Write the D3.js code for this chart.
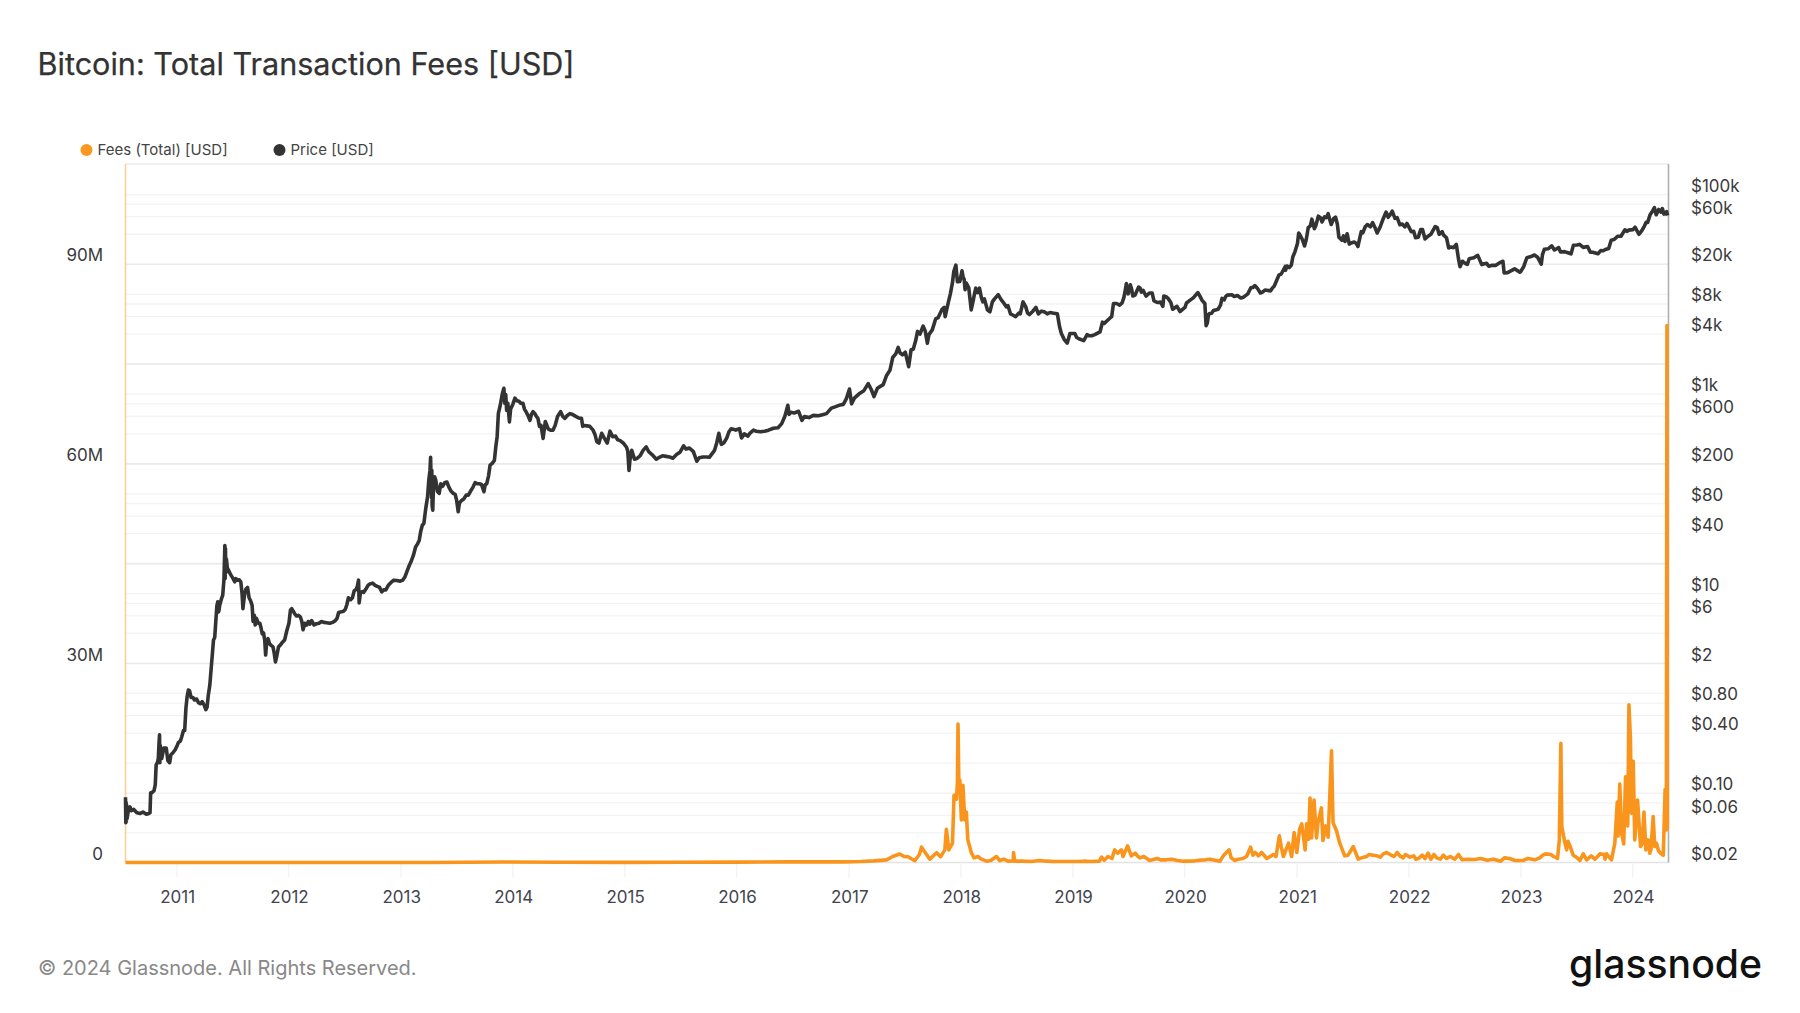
<!DOCTYPE html>
<html>
<head>
<meta charset="utf-8">
<script src="https://cdn.jsdelivr.net/npm/d3@7"></script>
<style>
  html, body { margin: 0; background: #fff; }
  svg { display: block; font-family: Inter, sans-serif; }
  .grid path, .edge path { display: none; }
  .grid text { display: none; }
</style>
</head>
<body>
<div id="chart"></div>
<script>
// values, [date, USD]
const price2010 = [["2010-07-19",0.09],["2010-07-20",0.05],["2010-07-21",0.08],["2010-07-22",0.052],["2010-07-23",0.075],["2010-07-24",0.055],["2010-07-26",0.06],["2010-07-29",0.068],["2010-08-03",0.072],["2010-08-07",0.066],["2010-08-15",0.068],["2010-08-25",0.063],["2010-09-05",0.062],["2010-09-14",0.064],["2010-09-25",0.061],["2010-10-03",0.062],["2010-10-07",0.063],["2010-10-09",0.1],["2010-10-13",0.1],["2010-10-20",0.105],["2010-10-24",0.12],["2010-10-27",0.19],["2010-10-31",0.2],["2010-11-03",0.22],["2010-11-05",0.3],["2010-11-07",0.38],["2010-11-08",0.2],["2010-11-09",0.3],["2010-11-14",0.22],["2010-11-21",0.28],["2010-11-29",0.28],["2010-12-04",0.21],["2010-12-10",0.2],["2010-12-14",0.24],["2010-12-20",0.25],["2010-12-28",0.27]];
const price2011 = [["2011-01-04",0.3],["2011-01-08",0.32],["2011-01-14",0.33],["2011-01-18",0.36],["2011-01-24",0.42],["2011-01-28",0.42],["2011-02-01",0.7],["2011-02-05",0.92],["2011-02-09",1.07],["2011-02-13",1.05],["2011-02-18",0.9],["2011-02-24",0.9],["2011-03-01",0.85],["2011-03-08",0.87],["2011-03-14",0.8],["2011-03-20",0.78],["2011-03-26",0.82],["2011-04-02",0.75],["2011-04-07",0.68],["2011-04-11",0.72],["2011-04-15",0.95],["2011-04-20",1.2],["2011-04-24",1.7],["2011-04-28",2.4],["2011-05-02",3.4],["2011-05-06",3.6],["2011-05-10",5.5],["2011-05-13",7.5],["2011-05-16",8.2],["2011-05-19",6.5],["2011-05-22",7.5],["2011-05-28",8.8],["2011-06-01",9.5],["2011-06-05",13.5],["2011-06-08",30],["2011-06-09",14],["2011-06-10",28],["2011-06-11",16],["2011-06-13",22],["2011-06-16",18],["2011-06-20",17],["2011-06-24",16],["2011-06-29",15],["2011-07-05",14],["2011-07-10",13],["2011-07-14",14],["2011-07-19",13.5],["2011-07-25",13.6],["2011-07-30",13],["2011-08-03",10],["2011-08-06",7],["2011-08-08",8],["2011-08-12",10],["2011-08-16",11],["2011-08-21",11.4],["2011-08-26",9],["2011-08-31",8.4],["2011-09-05",7.5],["2011-09-08",5.2],["2011-09-12",6],["2011-09-15",4.8],["2011-09-19",5.6],["2011-09-25",5],["2011-09-30",5],["2011-10-04",4.5],["2011-10-08",3.9],["2011-10-12",4],["2011-10-16",3.4],["2011-10-19",2.4],["2011-10-22",3.1],["2011-10-27",3.5],["2011-11-01",3.1],["2011-11-06",3],["2011-11-12",2.9],["2011-11-16",2.5],["2011-11-20",2.05],["2011-11-25",2.4],["2011-11-30",2.9],["2011-12-05",3],["2011-12-12",3.2],["2011-12-20",3.4],["2011-12-27",4.2]];
const price2012 = [["2012-01-03",5],["2012-01-08",6.8],["2012-01-12",7],["2012-01-17",6.6],["2012-01-22",6.2],["2012-01-28",5.9],["2012-02-03",6],["2012-02-09",5.8],["2012-02-14",5.2],["2012-02-18",4.3],["2012-02-24",5],["2012-03-01",4.8],["2012-03-06",5.2],["2012-03-11",4.9],["2012-03-17",5.3],["2012-03-25",4.8],["2012-04-02",4.95],["2012-04-10",5],["2012-04-18",5.2],["2012-04-26",5.1],["2012-05-05",5.05],["2012-05-15",5],["2012-05-25",5.1],["2012-06-02",5.3],["2012-06-08",5.6],["2012-06-13",6.4],["2012-06-22",6.5],["2012-06-29",6.6],["2012-07-05",6.9],["2012-07-10",7.7],["2012-07-15",9],["2012-07-22",8.6],["2012-07-28",9],["2012-08-03",10.6],["2012-08-09",10.9],["2012-08-13",11.7],["2012-08-17",13.5],["2012-08-19",8],["2012-08-23",10],["2012-08-29",10.4],["2012-09-03",10.2],["2012-09-10",11],["2012-09-17",12],["2012-09-24",12.4],["2012-10-02",12.6],["2012-10-10",12],["2012-10-17",11.7],["2012-10-24",11.5],["2012-11-01",10.3],["2012-11-07",10.8],["2012-11-14",10.8],["2012-11-22",12],["2012-12-01",12.8],["2012-12-10",13.5],["2012-12-20",13.4],["2012-12-31",13.2]];
const price2013 = [["2013-01-08",13.5],["2013-01-15",14.5],["2013-01-22",16.5],["2013-01-28",18.5],["2013-02-04",20.6],["2013-02-12",24],["2013-02-19",29],["2013-02-25",31],["2013-03-03",34],["2013-03-08",42],["2013-03-13",48],["2013-03-18",50],["2013-03-24",70],["2013-03-30",92],["2013-04-03",135],["2013-04-07",170],["2013-04-09",230],["2013-04-11",120],["2013-04-12",90],["2013-04-13",170],["2013-04-14",75],["2013-04-16",68],["2013-04-18",110],["2013-04-22",147],["2013-04-26",135],["2013-05-01",105],["2013-05-07",100],["2013-05-12",125],["2013-05-18",118],["2013-05-25",128],["2013-06-01",130],["2013-06-08",115],["2013-06-15",105],["2013-06-22",100],["2013-06-28",98],["2013-07-03",85],["2013-07-08",65.5],["2013-07-12",80],["2013-07-19",85],["2013-07-26",88],["2013-08-03",96],["2013-08-10",96],["2013-08-17",105],["2013-08-25",115],["2013-09-01",128],["2013-09-08",125],["2013-09-15",125],["2013-09-22",123],["2013-09-30",104],["2013-10-04",122],["2013-10-09",125],["2013-10-15",150],["2013-10-20",192],["2013-10-27",200],["2013-11-03",214],["2013-11-08",300],["2013-11-12",370],["2013-11-16",634],["2013-11-22",760],["2013-11-29",1000],["2013-12-04",1130],["2013-12-07",800],["2013-12-10",980],["2013-12-13",680],["2013-12-17",800],["2013-12-22",520],["2013-12-26",700]];
const price2014 = [["2014-01-02",780],["2014-01-09",900],["2014-01-15",850],["2014-01-22",840],["2014-01-28",800],["2014-02-04",800],["2014-02-09",700],["2014-02-14",660],["2014-02-20",610],["2014-02-27",540],["2014-03-04",620],["2014-03-09",660],["2014-03-15",630],["2014-03-20",590],["2014-03-25",565],["2014-03-30",470],["2014-04-04",480],["2014-04-11",356],["2014-04-18",525],["2014-04-22",490],["2014-04-28",440],["2014-05-05",430],["2014-05-13",430],["2014-05-20",480],["2014-05-28",590],["2014-06-07",660],["2014-06-14",590],["2014-06-21",565],["2014-06-28",600],["2014-07-07",630],["2014-07-15",620],["2014-07-25",595],["2014-08-05",570],["2014-08-14",565],["2014-08-18",470],["2014-08-22",480],["2014-09-01",475],["2014-09-10",470],["2014-09-21",430],["2014-09-27",390],["2014-10-03",330],["2014-10-10",320],["2014-10-19",400],["2014-10-27",360],["2014-11-06",320],["2014-11-15",420],["2014-11-24",370],["2014-12-03",375],["2014-12-10",345],["2014-12-17",340],["2014-12-28",320]];
const price2015 = [["2015-01-08",290],["2015-01-12",265],["2015-01-16",170],["2015-01-19",215],["2015-01-25",270],["2015-02-03",220],["2015-02-12",225],["2015-02-22",240],["2015-03-03",270],["2015-03-13",293],["2015-03-22",260],["2015-04-01",245],["2015-04-15",220],["2015-04-25",230],["2015-05-05",238],["2015-05-17",235],["2015-05-28",232],["2015-06-08",225],["2015-06-20",245],["2015-07-01",258],["2015-07-13",300],["2015-07-21",278],["2015-08-01",285],["2015-08-14",262],["2015-08-25",210],["2015-09-02",228],["2015-09-14",232],["2015-09-25",232],["2015-10-05",230],["2015-10-14",250],["2015-10-22",270],["2015-10-29",320],["2015-11-05",400],["2015-11-09",350],["2015-11-13",310],["2015-11-22",322],["2015-12-01",360],["2015-12-08",415],["2015-12-15",445],["2015-12-22",440],["2015-12-30",430]];
const price2016 = [["2016-01-06",440],["2016-01-11",445],["2016-01-18",360],["2016-01-27",395],["2016-02-08",375],["2016-02-14",400],["2016-02-26",430],["2016-03-06",420],["2016-03-20",415],["2016-04-02",420],["2016-04-15",430],["2016-05-01",450],["2016-05-16",455],["2016-05-28",500],["2016-06-07",590],["2016-06-12",670],["2016-06-17",765],["2016-06-21",620],["2016-06-27",650],["2016-07-08",640],["2016-07-22",665],["2016-08-02",540],["2016-08-10",590],["2016-08-25",575],["2016-09-08",605],["2016-09-25",600],["2016-10-08",615],["2016-10-21",630],["2016-11-06",715],["2016-11-20",740],["2016-12-05",770],["2016-12-15",780],["2016-12-25",890]];
const price2017 = [["2017-01-04",1110],["2017-01-11",790],["2017-01-20",900],["2017-02-07",1010],["2017-02-20",1070],["2017-03-06",1260],["2017-03-16",1100],["2017-03-25",935],["2017-04-05",1130],["2017-04-24",1230],["2017-05-05",1520],["2017-05-16",1710],["2017-05-25",2300],["2017-06-04",2500],["2017-06-12",2900],["2017-06-18",2550],["2017-06-26",2450],["2017-07-05",2600],["2017-07-16",1860],["2017-07-24",2750],["2017-07-31",2780],["2017-08-08",3400],["2017-08-14",4200],["2017-08-22",3950],["2017-09-01",4750],["2017-09-08",4250],["2017-09-15",3200],["2017-09-20",3900],["2017-10-01",4350],["2017-10-12",5600],["2017-10-20",5770],["2017-11-02",7000],["2017-11-09",7300],["2017-11-12",5900],["2017-11-22",8100],["2017-11-29",10000],["2017-12-06",13000],["2017-12-10",16600],["2017-12-17",19400],["2017-12-22",13200],["2017-12-30",13300]];
const price2018 = [["2018-01-06",17000],["2018-01-10",14500],["2018-01-13",14000],["2018-01-16",11000],["2018-01-20",12800],["2018-01-28",11500],["2018-02-05",6900],["2018-02-12",8700],["2018-02-16",10100],["2018-02-20",11400],["2018-02-26",10300],["2018-03-04",11400],["2018-03-10",9200],["2018-03-15",8300],["2018-03-20",8900],["2018-03-30",6900],["2018-04-07",6600],["2018-04-15",8300],["2018-04-22",8900],["2018-05-04",9800],["2018-05-14",8700],["2018-05-22",8100],["2018-05-31",7400],["2018-06-05",7600],["2018-06-13",6300],["2018-06-22",6100],["2018-06-30",5900],["2018-07-10",6400],["2018-07-15",6300],["2018-07-24",8300],["2018-08-02",7400],["2018-08-08",6400],["2018-08-14",6200],["2018-08-25",6700],["2018-09-04",7300],["2018-09-12",6300],["2018-09-22",6700],["2018-10-01",6600],["2018-10-11",6300],["2018-10-20",6500],["2018-11-01",6400],["2018-11-13",6300],["2018-11-20",4700],["2018-11-26",4000],["2018-12-05",3500],["2018-12-15",3200],["2018-12-24",4000]];
const price2019 = [["2019-01-09",4000],["2019-01-15",3650],["2019-01-22",3550],["2019-02-07",3400],["2019-02-18",3900],["2019-02-24",3800],["2019-03-05",3800],["2019-03-15",3900],["2019-04-01",4150],["2019-04-09",5200],["2019-04-15",5050],["2019-04-25",5400],["2019-05-03",5700],["2019-05-09",5900],["2019-05-15",8000],["2019-05-25",8000],["2019-06-04",7700],["2019-06-12",8100],["2019-06-18",9200],["2019-06-22",10700],["2019-06-26",12700],["2019-07-02",10000],["2019-07-05",11000],["2019-07-09",12300],["2019-07-13",11200],["2019-07-17",9500],["2019-07-24",9700],["2019-08-05",11700],["2019-08-10",11400],["2019-08-14",10400],["2019-08-20",10800],["2019-08-29",9500],["2019-09-10",10200],["2019-09-18",10200],["2019-09-24",8500],["2019-10-01",8300],["2019-10-07",8200],["2019-10-15",8250],["2019-10-23",7500],["2019-10-26",9500],["2019-11-04",9300],["2019-11-10",8900],["2019-11-18",8200],["2019-11-24",7000],["2019-12-02",7300],["2019-12-08",7500],["2019-12-18",6650]];
const price2020 = [["2020-01-03",7300],["2020-01-08",8100],["2020-01-19",8600],["2020-01-28",9000],["2020-02-02",9300],["2020-02-14",10300],["2020-02-20",9600],["2020-02-28",8600],["2020-03-08",8000],["2020-03-12",4800],["2020-03-16",5100],["2020-03-20",6200],["2020-03-22",6300],["2020-03-30",6400],["2020-04-05",6800],["2020-04-12",6900],["2020-04-20",7000],["2020-04-28",7700],["2020-05-03",9000],["2020-05-10",8700],["2020-05-15",9400],["2020-05-20",9700],["2020-06-04",9800],["2020-06-12",9400],["2020-06-22",9600],["2020-07-03",9100],["2020-07-12",9250],["2020-07-26",10000],["2020-08-05",11500],["2020-08-12",11600],["2020-08-18",12100],["2020-08-26",11400],["2020-09-05",10200],["2020-09-12",10400],["2020-09-20",10900],["2020-10-08",10700],["2020-10-15",11500],["2020-10-20",11900],["2020-11-05",15500],["2020-11-12",15800],["2020-11-25",18800],["2020-11-26",17200],["2020-12-01",19000],["2020-12-08",18300],["2020-12-15",19400],["2020-12-20",23500],["2020-12-27",26500]];
const price2021 = [["2021-01-04",32000],["2021-01-08",40700],["2021-01-14",38000],["2021-01-20",35000],["2021-01-27",30200],["2021-02-02",35500],["2021-02-08",46000],["2021-02-15",48000],["2021-02-20",56000],["2021-02-28",45000],["2021-03-05",48500],["2021-03-13",60000],["2021-03-20",58000],["2021-03-25",52500],["2021-04-02",59000],["2021-04-08",58000],["2021-04-14",63500],["2021-04-19",56000],["2021-04-24",49500],["2021-05-02",56800],["2021-05-08",58800],["2021-05-14",50000],["2021-05-19",37000],["2021-05-29",34500],["2021-06-03",38000],["2021-06-08",33500],["2021-06-15",40000],["2021-06-22",31500],["2021-06-26",32200],["2021-07-08",33000],["2021-07-15",32000],["2021-07-20",29800],["2021-07-31",42000],["2021-08-05",40800],["2021-08-13",47000],["2021-08-20",49500],["2021-08-30",47000],["2021-09-06",51700],["2021-09-14",46000],["2021-09-21",40700],["2021-10-01",47000],["2021-10-10",56000],["2021-10-20",66000],["2021-10-27",58500],["2021-11-03",62500],["2021-11-09",67500],["2021-11-18",57000],["2021-11-25",58000],["2021-12-04",49200],["2021-12-12",50000],["2021-12-20",46800],["2021-12-27",50700]];
const price2022 = [["2022-01-03",46300],["2022-01-10",41900],["2022-01-18",42300],["2022-01-24",36500],["2022-02-02",37000],["2022-02-10",44000],["2022-02-16",44000],["2022-02-24",35500],["2022-03-07",38000],["2022-03-15",39500],["2022-03-29",47200],["2022-04-05",46000],["2022-04-11",39500],["2022-04-21",42000],["2022-04-25",39000],["2022-05-05",36500],["2022-05-12",28800],["2022-05-20",29500],["2022-05-28",29000],["2022-06-01",30000],["2022-06-06",31300],["2022-06-13",22500],["2022-06-18",18700],["2022-06-26",21200],["2022-07-05",20200],["2022-07-12",19700],["2022-07-18",22500],["2022-08-02",23000],["2022-08-15",24300],["2022-08-28",19600],["2022-09-05",20000],["2022-09-13",20200],["2022-09-20",18900],["2022-10-01",19300],["2022-10-13",19300],["2022-10-28",20700],["2022-11-05",21200],["2022-11-09",16200],["2022-11-20",16300],["2022-12-01",17000],["2022-12-13",17800],["2022-12-30",16500]];
const price2023 = [["2023-01-02",16700],["2023-01-12",18800],["2023-01-22",23000],["2023-02-02",23500],["2023-02-16",24500],["2023-02-26",23300],["2023-03-10",19800],["2023-03-14",24700],["2023-03-20",28000],["2023-04-02",28300],["2023-04-13",30300],["2023-04-22",27500],["2023-05-06",29000],["2023-05-12",26300],["2023-05-25",26500],["2023-06-05",25800],["2023-06-15",25100],["2023-06-23",30700],["2023-07-05",30800],["2023-07-13",31300],["2023-07-25",29200],["2023-08-08",29800],["2023-08-17",26200],["2023-08-25",26100],["2023-09-11",25200],["2023-09-20",27100],["2023-09-28",27000],["2023-10-05",27800],["2023-10-16",28500],["2023-10-24",34500],["2023-11-02",35000],["2023-11-15",37800],["2023-11-25",37800],["2023-12-08",43800],["2023-12-15",42200],["2023-12-20",43500]];
const price2024 = [["2024-01-03",44000],["2024-01-10",46500],["2024-01-16",43100],["2024-01-23",39500],["2024-02-01",43000],["2024-02-09",47500],["2024-02-15",52000],["2024-02-20",52000],["2024-02-28",62000],["2024-03-05",66000],["2024-03-13",73000],["2024-03-19",62000],["2024-03-24",67000],["2024-03-27",70000],["2024-04-03",66000],["2024-04-08",71500],["2024-04-13",63000],["2024-04-20",64500],["2024-04-22",66500],["2024-04-25",61000]];

// fees in USD millions, [date, USD M]
const feesEarly = [["2010-07-19",0],["2011-06-10",0.002],["2012-06-01",0.001],["2013-04-10",0.01],["2013-12-01",0.08],["2014-06-01",0.03],["2015-01-01",0.02],["2015-07-10",0.03],["2016-01-01",0.05],["2016-06-20",0.09],["2016-12-20",0.1]];
const fees2017 = [["2017-02-10",0.15],["2017-03-25",0.25],["2017-05-05",0.4],["2017-05-25",0.9],["2017-06-17",1.28],["2017-07-01",0.9],["2017-07-14",0.87],["2017-08-05",0.27],["2017-08-20",1.2],["2017-08-27",2.3],["2017-09-05",1.7],["2017-09-23",0.5],["2017-10-15",1.47],["2017-10-28",0.87],["2017-11-11",1.9],["2017-11-16",5],["2017-11-24",1.9],["2017-12-06",2.9],["2017-12-11",10.1],["2017-12-19",9.5],["2017-12-22",12],["2017-12-24",20.8],["2017-12-27",10.6],["2017-12-30",12.4]];
const fees2018 = [["2018-01-04",6.4],["2018-01-09",11.6],["2018-01-15",6.4],["2018-01-20",7.6],["2018-01-25",3.4],["2018-02-06",1.4],["2018-02-14",0.7],["2018-02-27",0.9],["2018-03-10",0.5],["2018-03-27",0.2],["2018-04-10",0.3],["2018-04-28",0.9],["2018-05-09",0.3],["2018-05-22",0.5],["2018-06-05",0.2],["2018-06-22",0.25],["2018-06-23",1.5],["2018-06-27",0.2],["2018-07-20",0.2],["2018-08-20",0.15],["2018-09-15",0.3],["2018-10-10",0.2],["2018-11-01",0.15],["2018-12-15",0.15]];
const fees2019 = [["2019-01-20",0.15],["2019-02-15",0.2],["2019-03-01",0.15],["2019-03-30",0.2],["2019-04-06",0.8],["2019-04-15",0.35],["2019-04-27",0.9],["2019-05-10",0.6],["2019-05-19",1.9],["2019-05-29",1.4],["2019-06-10",1.9],["2019-06-15",0.9],["2019-06-30",2.5],["2019-07-12",1],["2019-07-25",1.4],["2019-08-01",1],["2019-08-09",0.7],["2019-08-22",0.9],["2019-09-10",0.3],["2019-09-25",0.5],["2019-10-05",0.6],["2019-10-15",0.4],["2019-11-04",0.4],["2019-11-20",0.5],["2019-12-10",0.3],["2019-12-28",0.2]];
const fees2020 = [["2020-01-15",0.2],["2020-02-05",0.25],["2020-02-20",0.35],["2020-03-10",0.4],["2020-03-25",0.5],["2020-04-26",0.2],["2020-05-07",1],["2020-05-26",1.9],["2020-06-02",0.7],["2020-06-14",0.3],["2020-06-25",0.5],["2020-07-10",0.6],["2020-07-22",0.9],["2020-08-04",2.3],["2020-08-12",1.1],["2020-08-19",1.5],["2020-08-30",1],["2020-09-09",1.5],["2020-09-26",0.6],["2020-10-17",1.2],["2020-10-26",0.9],["2020-11-06",4],["2020-11-12",2.4],["2020-11-19",0.9],["2020-12-06",2.9],["2020-12-16",0.9],["2020-12-24",4.5]];
const fees2021 = [["2021-01-02",1.5],["2021-01-11",5],["2021-01-18",5.8],["2021-01-29",1.9],["2021-02-03",5.8],["2021-02-09",3.5],["2021-02-14",9.7],["2021-02-19",3.7],["2021-02-27",9.4],["2021-03-07",3.7],["2021-03-12",6],["2021-03-23",8.2],["2021-03-28",3.3],["2021-04-06",5.5],["2021-04-14",3.8],["2021-04-19",9.5],["2021-04-25",16.8],["2021-04-30",6],["2021-05-11",4.8],["2021-05-22",2.9],["2021-06-07",1],["2021-06-18",1.1],["2021-07-05",2.4],["2021-07-21",0.5],["2021-08-01",0.7],["2021-08-18",0.9],["2021-08-25",1.2],["2021-09-07",1.1],["2021-09-20",1],["2021-10-01",0.8],["2021-10-11",1.3],["2021-10-22",1.5],["2021-11-02",1.2],["2021-11-15",0.9],["2021-11-25",1.5],["2021-12-04",1],["2021-12-15",0.7],["2021-12-22",1.2]];
const fees2022 = [["2022-01-06",0.8],["2022-01-18",1],["2022-01-25",0.5],["2022-02-02",0.6],["2022-02-15",1.1],["2022-02-24",0.6],["2022-03-06",1.4],["2022-03-15",0.5],["2022-03-25",1.2],["2022-04-03",0.7],["2022-04-15",0.5],["2022-04-25",1.1],["2022-05-05",0.6],["2022-05-17",0.9],["2022-06-01",0.5],["2022-06-13",1.2],["2022-06-25",0.4],["2022-07-11",0.5],["2022-08-05",0.45],["2022-08-25",0.6],["2022-09-15",0.35],["2022-10-05",0.5],["2022-10-29",0.2],["2022-11-10",0.7],["2022-11-26",0.6],["2022-12-15",0.3]];
const fees2023 = [["2023-01-10",0.3],["2023-01-25",0.6],["2023-02-17",0.4],["2023-03-05",0.7],["2023-03-15",1.1],["2023-03-24",1.3],["2023-04-10",1.2],["2023-04-20",0.9],["2023-05-02",0.6],["2023-05-08",3.4],["2023-05-13",17.9],["2023-05-16",5.4],["2023-05-26",3],["2023-06-01",1.9],["2023-06-05",3.2],["2023-06-11",2.6],["2023-06-22",1.1],["2023-07-03",0.8],["2023-07-14",0.3],["2023-07-25",1.3],["2023-08-05",0.4],["2023-08-20",1],["2023-09-01",0.5],["2023-09-10",0.9],["2023-09-17",1.3],["2023-10-01",1.2],["2023-10-04",0.5],["2023-10-09",1.3],["2023-10-25",0.4],["2023-11-05",2.9],["2023-11-13",9.1],["2023-11-16",4],["2023-11-21",11.8],["2023-11-27",4.5],["2023-12-04",2.8],["2023-12-10",12.9],["2023-12-17",5.5],["2023-12-21",23.7],["2023-12-26",18.4],["2023-12-29",7.4]];
const fees2024 = [["2024-01-04",15.2],["2024-01-09",3.4],["2024-01-18",9.4],["2024-01-28",2.4],["2024-02-02",2.8],["2024-02-08",7.6],["2024-02-14",1.9],["2024-02-22",3.4],["2024-02-27",1.4],["2024-03-02",2],["2024-03-09",6.9],["2024-03-14",2.4],["2024-03-20",2.9],["2024-03-26",1.8],["2024-04-02",1.4],["2024-04-11",1.1],["2024-04-17",11],["2024-04-21",4.9],["2024-04-23",80.7],["2024-04-24",5]];

const priceTicks = [100000,60000,20000,8000,4000,1000,600,200,80,40,10,6,2,0.8,0.4,0.1,0.06,0.02];
const gridTicks = [100000,80000,60000,40000,20000,10000,8000,6000,4000,2000,1000,800,600,400,200,100,80,60,40,20,10,8,6,4,2,1,0.8,0.6,0.4,0.2,0.1,0.08,0.06,0.04];
const feeTicks = [0,30,60,90];
const yearTicks = [2011,2012,2013,2014,2015,2016,2017,2018,2019,2020,2021,2022,2023,2024];

const priceData = [].concat(price2010,price2011,price2012,price2013,price2014,price2015,price2016,price2017,price2018,price2019,price2020,price2021,price2022,price2023,price2024);
const feeData = [].concat(feesEarly,fees2017,fees2018,fees2019,fees2020,fees2021,fees2022,fees2023,fees2024);

const svgWidth = 1800, svgHeight = 1013;
const plotLeft = 125.5, plotRight = 1668.5, plotTop = 164, plotBottom = 862.5;
const parse = d3.utcParse("%Y-%m-%d");

const svg = d3.select("#chart").append("svg").attr("width", svgWidth).attr("height", svgHeight);

const x = d3.scaleUtc().domain([parse("2010-07-19"), parse("2024-04-28")]).range([plotLeft, plotRight]);
const yFee = d3.scaleLinear().domain([0, 105]).range([plotBottom, plotTop]);
const yPrice = d3.scaleLog().domain([0.02, 200000]).range([plotBottom, plotTop]);

// grid comes from the log axis, major lines on the 2eN values
const grid = svg.append("g").attr("class", "grid").attr("transform", `translate(${plotLeft},0)`)
    .call(d3.axisLeft(yPrice).tickValues(gridTicks).tickSize(-(plotRight - plotLeft)).tickFormat(""));
grid.selectAll("line")
    .attr("stroke", d => String(d).startsWith("2") ? "#e9e9e9" : "#f3f3f3")
    .attr("stroke-width", d => String(d).startsWith("2") ? 1.6 : 1.3);

svg.append("line").attr("x1", plotLeft).attr("x2", plotRight).attr("y1", plotTop).attr("y2", plotTop).attr("stroke", "#eaeaea").attr("stroke-width", 1.5);
svg.append("line").attr("x1", plotLeft).attr("x2", plotRight).attr("y1", plotBottom).attr("y2", plotBottom).attr("stroke", "#e3e3e3").attr("stroke-width", 1.5);
svg.append("line").attr("x1", plotLeft).attr("x2", plotLeft).attr("y1", plotTop).attr("y2", plotBottom).attr("stroke", "#fcd09a").attr("stroke-width", 1.6);
svg.append("line").attr("x1", plotRight).attr("x2", plotRight).attr("y1", plotTop).attr("y2", plotBottom).attr("stroke", "#b0b0b0").attr("stroke-width", 1.6);

// x axis
const xAxis = svg.append("g").attr("class", "edge").attr("transform", `translate(0,${plotBottom})`)
    .call(d3.axisBottom(x).tickValues(yearTicks.map(y => new Date(Date.UTC(y, 0, 1)))).tickSize(15).tickFormat(d3.utcFormat("%Y")));
xAxis.selectAll("line").attr("stroke", "#eeeeee");
xAxis.selectAll("text").attr("y", 36).attr("dy", 0).attr("dx", 0.7).attr("dominant-baseline", "middle")
    .attr("fill", "#42444f").attr("font-size", 17).attr("font-family", "Inter, sans-serif");

// left axis, labels sit a little above their value
const feeAxis = svg.append("g").attr("class", "edge").attr("transform", `translate(${plotLeft},0)`)
    .call(d3.axisLeft(yFee).tickValues(feeTicks).tickSize(0).tickFormat(d => d === 0 ? "0" : d + "M"));
feeAxis.selectAll("text").attr("x", -22.5).attr("dy", -7.5).attr("dominant-baseline", "middle")
    .attr("fill", "#3a3a3a").attr("font-size", 17).attr("font-family", "Inter, sans-serif");

const priceFormat = d => d >= 1000 ? "$" + d / 1000 + "k" : d >= 1 ? "$" + d : "$" + d.toFixed(2);
const priceAxis = svg.append("g").attr("class", "edge").attr("transform", `translate(${plotRight},0)`)
    .call(d3.axisRight(yPrice).tickValues(priceTicks).tickSize(0).tickFormat(priceFormat));
priceAxis.selectAll("text").attr("x", 22.5).attr("dy", -7.5).attr("dominant-baseline", "middle")
    .attr("fill", "#3a3a3a").attr("font-size", 17).attr("font-family", "Inter, sans-serif");

// lines
const feeLine = d3.line().x(d => x(parse(d[0]))).y(d => yFee(d[1]));
const priceLine = d3.line().x(d => x(parse(d[0]))).y(d => yPrice(d[1]));

svg.append("path").datum(priceData).attr("d", priceLine).attr("fill", "none")
    .attr("stroke", "#333333").attr("stroke-width", 3.6).attr("stroke-linejoin", "round");
svg.append("path").datum(feeData).attr("d", feeLine).attr("fill", "none")
    .attr("stroke", "#f9951d").attr("stroke-width", 3.6).attr("stroke-linejoin", "round");

// legend
const legendItems = [["Fees (Total) [USD]", "#fb981f", 86.5, 97.5], ["Price [USD]", "#333333", 279.5, 290.5]];
legendItems.forEach(l => {
    svg.append("circle").attr("cx", l[2]).attr("cy", 150).attr("r", 6).attr("fill", l[1]);
    svg.append("text").attr("x", l[3]).attr("y", 150.8).attr("dominant-baseline", "middle")
        .attr("font-size", 15).attr("fill", "#444").text(l[0]);
});

// title, footer, logo
svg.append("text").attr("x", 37.5).attr("y", 74.5).attr("font-size", 30.6).attr("font-weight", 400).attr("fill", "#333").attr("stroke", "#333").attr("stroke-width", 0.25).text("Bitcoin: Total Transaction Fees [USD]");
svg.append("text").attr("x", 38).attr("y", 975).attr("font-size", 20).attr("fill", "#888").text("© 2024 Glassnode. All Rights Reserved.");
svg.append("text").attr("x", 1569).attr("y", 977.5).attr("font-size", 40).attr("font-weight", 500).attr("fill", "#111")
    .attr("textLength", 193).attr("lengthAdjust", "spacingAndGlyphs").text("glassnode");
</script>
</body>
</html>
